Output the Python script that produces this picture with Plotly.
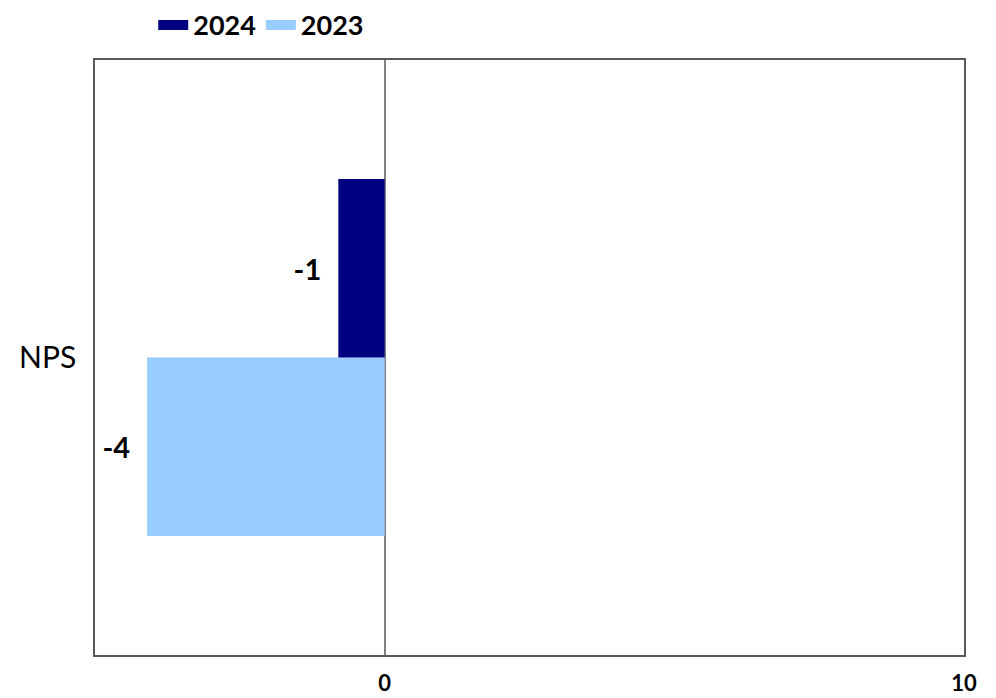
import plotly.graph_objects as go

# 数据（条长按图读取，标签为四舍五入后的显示值）
categories = ["NPS"]
series_names = ["2024", "2023"]
values_2024 = [-0.8]
values_2023 = [-4.1]
labels_2024 = ["-1"]
labels_2023 = ["-4"]
colors = {"2024": "#000080", "2023": "#99CCFF"}

FONT = "Lato, 'Open Sans', sans-serif"
LABEL_FONT = dict(family=FONT, size=29, color="#000000", weight="bold")

fig = go.Figure()

# 2023 先加（水平分组时位于下方）
fig.add_trace(go.Bar(
    y=categories, x=values_2023, name="2023", orientation="h",
    marker=dict(color=colors["2023"], line=dict(width=0)),
    text=labels_2023, texttemplate="%{text}\u00a0\u00a0", textposition="outside",
    textfont=LABEL_FONT, cliponaxis=False, showlegend=False,
))
fig.add_trace(go.Bar(
    y=categories, x=values_2024, name="2024", orientation="h",
    marker=dict(color=colors["2024"], line=dict(width=0)),
    text=labels_2024, texttemplate="%{text}\u00a0\u00a0", textposition="outside",
    textfont=LABEL_FONT, cliponaxis=False, showlegend=False,
))

# 图例：用粗线条模拟矩形色块
for name in series_names:
    fig.add_trace(go.Scatter(
        x=[None], y=[None], mode="lines", name=name,
        line=dict(color=colors[name], width=23),
    ))

# 页面 body 自带 8px 边距，尺寸与边距相应缩小
fig.update_layout(
    width=988, height=690,
    barmode="group", bargap=0.4, bargroupgap=0,
    plot_bgcolor="#ffffff", paper_bgcolor="#ffffff",
    margin=dict(l=87, r=32, t=52, b=43, autoexpand=False),
    font=dict(family=FONT, color="#000000"),
    legend=dict(
        orientation="h", x=0.067, y=1.017, xanchor="left", yanchor="bottom",
        font=dict(family=FONT, size=27, weight="bold"),
        bgcolor="rgba(0,0,0,0)", itemwidth=30,
    ),
    xaxis=dict(
        range=[-5, 10], tickvals=[0, 10], showgrid=False, automargin=False,
        zeroline=True, zerolinecolor="#808080", zerolinewidth=1.5,
        showline=True, linecolor="#595959", linewidth=1.5, mirror=True,
        tickfont=dict(family=FONT, size=22, weight="bold"),
        ticklabelstandoff=8,
    ),
    yaxis=dict(
        showgrid=False, showline=True, linecolor="#595959", linewidth=1.5, mirror=True,
        automargin=False, tickfont=dict(family=FONT, size=30), ticklabelstandoff=11,
    ),
)

fig.write_html("out.html")
